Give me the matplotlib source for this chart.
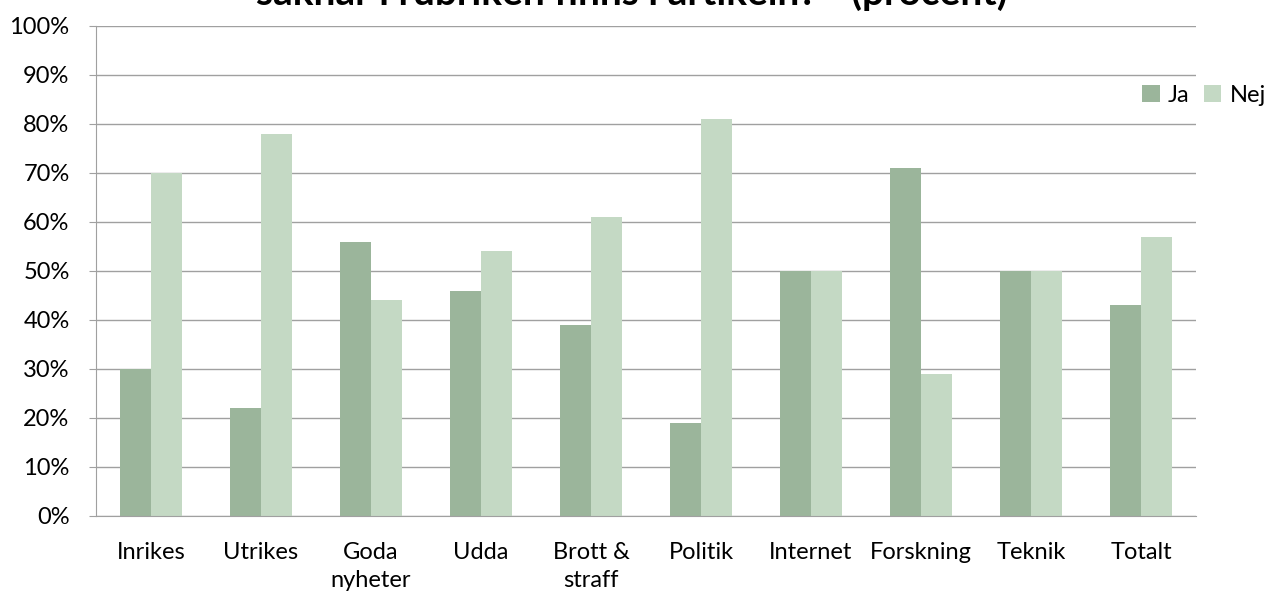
import matplotlib.pyplot as plt
import numpy as np

plt.rcParams['font.family'] = ['Lato', 'DejaVu Sans']

categories = ['Inrikes', 'Utrikes', 'Goda\nnyheter', 'Udda', 'Brott &\nstraff',
              'Politik', 'Internet', 'Forskning', 'Teknik', 'Totalt']
ja = [30, 22, 56, 46, 39, 19, 50, 71, 50, 43]
nej = [70, 78, 44, 54, 61, 81, 50, 29, 50, 57]
yticks = np.arange(0, 101, 10)

fig = plt.figure(figsize=(12.72, 5.93), dpi=100)
ax = fig.add_axes([96/1272, 1 - 516/593, 1100/1272, 490/593])

x = np.arange(len(categories))
w = 0.283
ax.bar(x - w/2, ja, w, color='#9BB59B', label='Ja', zorder=2)
ax.bar(x + w/2, nej, w, color='#C4D9C4', label='Nej', zorder=2)

ax.set_xlim(-0.5, len(categories) - 0.5)
ax.set_ylim(0, 100)
ax.set_yticks(yticks)
ax.set_yticklabels([f'{v}%' for v in yticks], fontsize=17)
ax.set_xticks(x)
ax.set_xticklabels(categories, fontsize=17, linespacing=1.4)
ax.tick_params(axis='x', length=0, pad=19)
ax.tick_params(axis='y', length=5, color='#A0A0A0', pad=14)
ax.yaxis.grid(True, color='#A0A0A0', linewidth=1, zorder=0)
for s in ['top', 'right']:
    ax.spines[s].set_visible(False)
for s in ['left', 'bottom']:
    ax.spines[s].set_color('#A0A0A0')

ax.legend(loc='center left', bbox_to_anchor=(1142/1272, 1 - 95/593),
          bbox_transform=fig.transFigure, ncol=2, frameon=False, fontsize=17,
          handlelength=0.75, handleheight=0.75, handletextpad=0.35, columnspacing=0.6,
          borderaxespad=0, borderpad=0)

# title is cut off at the top edge in the original
fig.text(632/1272, 1 - 5/593, 'saknar i rubriken finns i artikeln?"  (procent)',
         ha='center', va='baseline', fontsize=28, fontweight='bold')

fig.savefig('out.png', dpi=100)
